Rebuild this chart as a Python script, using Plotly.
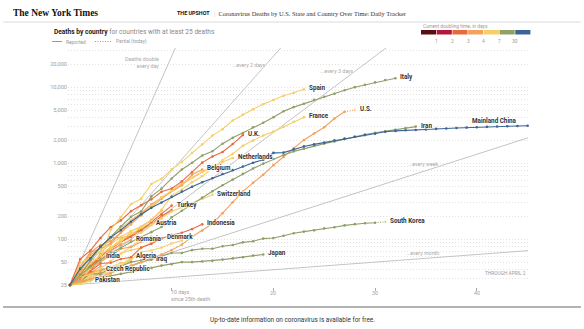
import numpy as np
import plotly.graph_objects as go

# Cumulative deaths by day, day 0 = the day a country reached 25 deaths (through April 1).
italy = [25, 34, 52, 79, 107, 148, 197, 233, 366, 463, 631, 827, 1016, 1266, 1441, 1809, 2158,
         2503, 2978, 3405, 4032, 4825, 5476, 6077, 6820, 7503, 8215, 9134, 10023, 10779, 11591,
         12428, 13155]
spain = [25, 35, 54, 55, 133, 195, 289, 342, 533, 623, 830, 1043, 1375, 1772, 2311, 2808, 3647,
         4365, 5138, 5982, 6803, 7716, 8464, 9387]
united_states = [25, 28, 30, 32, 36, 40, 45, 50, 57, 63, 72, 85, 108, 130, 160, 220, 307, 427, 552,
                 706, 942, 1209, 1581, 2026, 2467, 2978, 3873, 4757]
france = [25, 33, 48, 61, 79, 91, 127, 148, 175, 244, 372, 450, 562, 674, 860, 1100, 1331, 1696,
          1995, 2314, 2606, 3024, 3523, 4043]
iran = [25, 34, 43, 54, 66, 77, 92, 107, 124, 145, 194, 237, 291, 354, 429, 514, 611, 724, 853,
        988, 1135, 1284, 1433, 1556, 1685, 1812, 1934, 2077, 2234, 2378, 2517, 2640, 2757, 2898,
        3036]
mainland_china = [25, 41, 56, 80, 106, 132, 170, 213, 259, 304, 361, 425, 490, 563, 636, 722, 811,
                  908, 1016, 1113, 1368, 1380, 1523, 1665, 1770, 1868, 2004, 2118, 2236, 2345,
                  2442, 2592, 2663, 2715, 2744, 2788, 2835, 2870, 2912, 2943, 2981, 3012, 3042,
                  3070, 3097, 3119]
south_korea = [25, 28, 35, 35, 42, 44, 50, 53, 54, 60, 66, 66, 72, 75, 75, 81, 84, 91, 94, 102,
               104, 111, 120, 126, 131, 139, 144, 152, 158, 162, 165]
japan = [25, 27, 29, 31, 33, 35, 37, 39, 42, 45, 47, 50, 50, 51, 52, 54, 56, 58, 61, 63]
united_kingdom = [25, 55, 71, 104, 144, 177, 233, 281, 335, 422, 465, 578, 759, 1019, 1228, 1408,
                  1789, 2352]
netherlands = [25, 43, 58, 76, 106, 136, 179, 213, 276, 356, 434, 546, 639, 771, 864, 1039, 1173]
belgium = [25, 37, 67, 75, 88, 122, 178, 220, 289, 353, 431, 513, 705, 828]
germany = [25, 44, 67, 84, 94, 123, 157, 206, 267, 342, 433, 533, 645, 775, 920]
switzerland = [25, 28, 41, 54, 75, 98, 120, 122, 153, 191, 231, 264, 300, 340, 385]
turkey = [25, 37, 44, 59, 75, 92, 108, 131, 168, 214, 277]
austria = [25, 49, 58, 68, 86, 108, 128, 146, 158]
indonesia = [25, 32, 38, 48, 49, 55, 58, 78, 87, 102, 114, 122, 136, 157]
romania = [25, 37, 43, 65, 70, 85, 98]
denmark = [25, 32, 34, 41, 52, 65, 72, 77, 90, 104]
india = [25, 32, 38, 58]
algeria = [25, 26, 29, 31, 35, 44, 58]
iraq = [25, 29, 36, 40, 42, 42, 44, 50, 54]
czech_republic = [25, 31, 36, 39]
pakistan = [25, 26, 28]
brazil = [25, 34, 46, 59, 77, 92, 111, 136, 159, 201, 240]
sweden = [25, 36, 62, 77, 105, 105, 110, 146, 180, 239]
portugal = [25, 33, 43, 60, 76, 100, 119, 140, 160, 187]
canada = [25, 35, 39, 54, 61, 64, 80, 101, 109]
ecuador = [25, 34, 41, 58, 60, 75, 79, 93]
philippines = [25, 33, 33, 35, 38, 45, 54, 68, 71, 78, 88, 96]
ireland = [25, 36, 46, 54, 71, 85]
egypt = [25, 30, 36, 40, 41, 46, 52]
dominican_republic = [25, 39, 42, 51, 60]
greece = [25, 28, 32, 38, 43, 49, 50]
malaysia = [25, 27, 35, 37, 43, 45]
morocco = [25, 33, 36, 44]
luxembourg = [25, 29, 31, 36]
mexico = [25, 28, 29, 37]

# Partial counts for April 2
partial_today = {"U.S.": 5000, "South Korea": 169}

# Doubling-time colour scale
doubling_colors = ["#5a0d12", "#b3173b", "#e8693f", "#f3a25b", "#f6cf67", "#8fa06a", "#3c6497"]
doubling_ticks = ["1", "2", "3", "4", "7", "30"]
MAROON, CRIMSON, RED_ORANGE, ORANGE, YELLOW, GREEN, BLUE = doubling_colors

# Reference slopes, in days to double
reference_days = [1, 2, 3, 7, 30]
reference_labels = ["Deaths double<br>every day", "...every 2 days", "...every 3 days",
                    "...every week", "...every month"]

y_ticks = [25, 50, 100, 200, 500, 1000, 2000, 5000, 10000, 20000]
y_grid = [30, 40, 50, 60, 70, 80, 90, 100, 200, 300, 400, 500, 600, 700, 800, 900,
          1000, 2000, 3000, 4000, 5000, 6000, 7000, 8000, 9000, 10000, 20000, 30000]
x_ticks = [10, 20, 30, 40]

countries = [
    # name, values, colour, labelled
    ("Brazil", brazil, RED_ORANGE, False),
    ("Sweden", sweden, ORANGE, False),
    ("Portugal", portugal, YELLOW, False),
    ("Canada", canada, YELLOW, False),
    ("Ecuador", ecuador, ORANGE, False),
    ("Philippines", philippines, YELLOW, False),
    ("Ireland", ireland, RED_ORANGE, False),
    ("Egypt", egypt, YELLOW, False),
    ("Dominican Republic", dominican_republic, ORANGE, False),
    ("Greece", greece, YELLOW, False),
    ("Malaysia", malaysia, YELLOW, False),
    ("Morocco", morocco, ORANGE, False),
    ("Luxembourg", luxembourg, YELLOW, False),
    ("Mexico", mexico, ORANGE, False),
    ("Germany", germany, ORANGE, False),
    ("Japan", japan, GREEN, True),
    ("South Korea", south_korea, GREEN, True),
    ("Iraq", iraq, GREEN, True),
    ("Pakistan", pakistan, YELLOW, True),
    ("Czech Republic", czech_republic, ORANGE, True),
    ("Algeria", algeria, YELLOW, True),
    ("India", india, RED_ORANGE, True),
    ("Denmark", denmark, YELLOW, True),
    ("Romania", romania, ORANGE, True),
    ("Indonesia", indonesia, RED_ORANGE, True),
    ("Austria", austria, YELLOW, True),
    ("Turkey", turkey, RED_ORANGE, True),
    ("Switzerland", switzerland, YELLOW, True),
    ("Belgium", belgium, ORANGE, True),
    ("Netherlands", netherlands, YELLOW, True),
    ("U.K.", united_kingdom, RED_ORANGE, True),
    ("France", france, YELLOW, True),
    ("Spain", spain, YELLOW, True),
    ("U.S.", united_states, ORANGE, True),
    ("Iran", iran, GREEN, True),
    ("Italy", italy, GREEN, True),
    ("Mainland China", mainland_china, BLUE, True),
]

# ---- geometry of the page (pixels) ----
W, H = 584, 329
ML, MR, MT, MB = 68, 56, 48, 42
PW, PH = W - ML - MR, H - MT - MB
DAY_PX = 10.17
X_RANGE = [-2 / DAY_PX, (PW - 2) / DAY_PX]
DECADE_PX = 76.0
Y_RANGE = [np.log10(25) - 2 / DECADE_PX, np.log10(25) + (PH - 2) / DECADE_PX]


def px(x):
    return (x - ML) / PW


def py(y):
    return (H - MB - y) / PH


SANS = "Roboto, Liberation Sans, Arial, sans-serif"
HALO = "1px 0 1px #fff, -1px 0 1px #fff, 0 1px 1px #fff, 0 -1px 1px #fff"

fig = go.Figure()

# Doubling-rate reference lines
ref_x = np.linspace(0, X_RANGE[1], 300)
for d in reference_days:
    fig.add_trace(go.Scatter(x=ref_x, y=25 * 2 ** (ref_x / d), mode="lines",
                             line=dict(color="#c4c4c4", width=1), hoverinfo="skip"))

annotations = []

for name, values, color, labelled in countries:
    days = list(range(len(values)))
    fig.add_trace(go.Scatter(x=days, y=values, mode="lines+markers", name=name,
                             line=dict(color=color, width=1.1),
                             marker=dict(color=color, size=2.6),
                             cliponaxis=False))
    end_x, end_y = days[-1], values[-1]
    if name in partial_today:
        fig.add_trace(go.Scatter(x=[end_x, end_x + 1], y=[end_y, partial_today[name]],
                                 mode="lines+markers",
                                 line=dict(color=color, width=1.1, dash="1px,1.5px"),
                                 marker=dict(color=color, size=[0, 2.6])))
        end_x, end_y = end_x + 1, partial_today[name]
    if not labelled:
        continue
    if name == "Mainland China":
        annotations.append(dict(x=end_x, y=np.log10(end_y), xref="x", yref="y", text=f"<b>{name}</b>",
                                xanchor="right", yanchor="middle", xshift=-9, yshift=5,
                                showarrow=False,
                                font=dict(family=SANS, size=6.3, color="#333", shadow=HALO)))
    else:
        annotations.append(dict(x=end_x, y=np.log10(end_y), xref="x", yref="y", text=f"<b>{name}</b>",
                                xanchor="left", yanchor="middle", xshift=3, yshift=1,
                                showarrow=False,
                                font=dict(family=SANS, size=6.3, color="#333", shadow=HALO)))

# Reference-line captions
ref_pos = [(161, 62, "right"), (230, 65, "left"), (318, 71, "left"), (406, 164, "left"),
           (404, 253, "left")]
for label, (x, y, anchor) in zip(reference_labels, ref_pos):
    annotations.append(dict(x=px(x), y=py(y), xref="paper", yref="paper", text=label,
                            xanchor=anchor, yanchor="middle", showarrow=False, align=anchor,
                            font=dict(family=SANS, size=5.3, color="#a8a8a8", shadow=HALO)))

annotations.append(dict(x=px(528), y=py(273), xref="paper", yref="paper", text="THROUGH APRIL 2",
                        xanchor="right", yanchor="middle", showarrow=False,
                        font=dict(family=SANS, size=4.8, color="#999")))

# x-axis captions
annotations.append(dict(x=px(169), y=py(295.5), xref="paper", yref="paper",
                        text="10 days<br>since 25th death", xanchor="left", yanchor="middle",
                        align="left", showarrow=False,
                        font=dict(family=SANS, size=5.3, color="#a0a0a0")))
for t in x_ticks[1:]:
    annotations.append(dict(x=t, y=py(292.5), xref="x", yref="paper", text=str(t),
                            xanchor="center", yanchor="middle", showarrow=False,
                            font=dict(family=SANS, size=5.3, color="#a0a0a0")))

# Page header
annotations += [
    dict(x=px(11), y=py(13), xref="paper", yref="paper", text="<b>The New York Times</b>",
         xanchor="left", yanchor="middle", showarrow=False,
         font=dict(family="Liberation Serif, DejaVu Serif, serif", size=9.5, color="#111")),
    dict(x=px(175), y=py(13), xref="paper", yref="paper", text="<b>THE UPSHOT</b>",
         xanchor="left", yanchor="middle", showarrow=False,
         font=dict(family=SANS, size=5.4, color="#111")),
    dict(x=px(212), y=py(13), xref="paper", yref="paper",
         text="<span style='color:#bbb'>|</span>  Coronavirus Deaths by U.S. State and Country Over Time: Daily Tracker",
         xanchor="left", yanchor="middle", showarrow=False,
         font=dict(family="Liberation Serif, DejaVu Serif, serif", size=6.4, color="#333")),
    dict(x=px(52), y=py(32), xref="paper", yref="paper",
         text="<b>Deaths by country</b> <span style='color:#888'>for countries with at least 25 deaths</span>",
         xanchor="left", yanchor="middle", showarrow=False,
         font=dict(family=SANS, size=6.6, color="#222")),
    dict(x=px(64), y=py(41.5), xref="paper", yref="paper", text="Reported",
         xanchor="left", yanchor="middle", showarrow=False,
         font=dict(family=SANS, size=4.9, color="#999")),
    dict(x=px(114), y=py(41.5), xref="paper", yref="paper", text="Partial (today)",
         xanchor="left", yanchor="middle", showarrow=False,
         font=dict(family=SANS, size=4.9, color="#999")),
    dict(x=px(421), y=py(26), xref="paper", yref="paper", text="Current doubling time, in days",
         xanchor="left", yanchor="middle", showarrow=False,
         font=dict(family=SANS, size=4.9, color="#999")),
    dict(x=0.5 * (px(0) + px(W)), y=py(320), xref="paper", yref="paper",
         text="Up-to-date information on coronavirus is available for free.",
         xanchor="center", yanchor="middle", showarrow=False,
         font=dict(family=SANS, size=6.4, color="#333")),
]

# Colour-key blocks and tick numbers
shapes = []
key_left, key_right = 421, 531
block = (key_right - key_left) / len(doubling_colors)
for i, c in enumerate(doubling_colors):
    shapes.append(dict(type="rect", xref="paper", yref="paper",
                       x0=px(key_left + i * block), x1=px(key_left + (i + 1) * block - 0.6),
                       y0=py(34.5), y1=py(30), fillcolor=c, line=dict(width=0)))
for i, t in enumerate(doubling_ticks):
    annotations.append(dict(x=px(key_left + (i + 1) * block), y=py(41), xref="paper", yref="paper",
                            text=t, xanchor="center", yanchor="middle", showarrow=False,
                            font=dict(family=SANS, size=4.9, color="#999")))

# Legend strokes for reported / partial
shapes.append(dict(type="line", xref="paper", yref="paper", x0=px(52), x1=px(62),
                   y0=py(41.5), y1=py(41.5), line=dict(color="#999", width=1)))
shapes.append(dict(type="line", xref="paper", yref="paper", x0=px(95), x1=px(112),
                   y0=py(41.5), y1=py(41.5), line=dict(color="#999", width=1, dash="1px,1.5px")))

# Header rule and footer rule
shapes.append(dict(type="line", xref="paper", yref="paper", x0=px(3), x1=px(581),
                   y0=py(22), y1=py(22), line=dict(color="#dcdcdc", width=1.2)))
shapes.append(dict(type="line", xref="paper", yref="paper", x0=px(3), x1=px(581),
                   y0=py(307), y1=py(307), line=dict(color="#9a9a9a", width=1.5)))

fig.update_layout(
    width=W, height=H,
    margin=dict(l=ML, r=MR, t=MT, b=MB, pad=0),
    paper_bgcolor="white", plot_bgcolor="white",
    showlegend=False,
    annotations=annotations,
    shapes=shapes,
    xaxis=dict(range=X_RANGE, tickvals=x_ticks, ticktext=["", "", "", ""],
               ticks="outside", ticklen=3, tickcolor="#aaa", tickwidth=1,
               showgrid=False, zeroline=False, showline=False, fixedrange=True),
    yaxis=dict(type="log", range=Y_RANGE, tickvals=y_ticks,
               ticktext=[f"{v:,}" for v in y_ticks], ticks="", showgrid=False,
               zeroline=False, showline=False,
               tickfont=dict(family=SANS, size=5.6, color="#a0a0a0"),
               minor=dict(tickvals=y_grid, showgrid=True, gridcolor="#e2e2e2",
                          griddash="1px,2px", gridwidth=1, ticks=""),
               fixedrange=True),
)

fig.write_html("out.html")
